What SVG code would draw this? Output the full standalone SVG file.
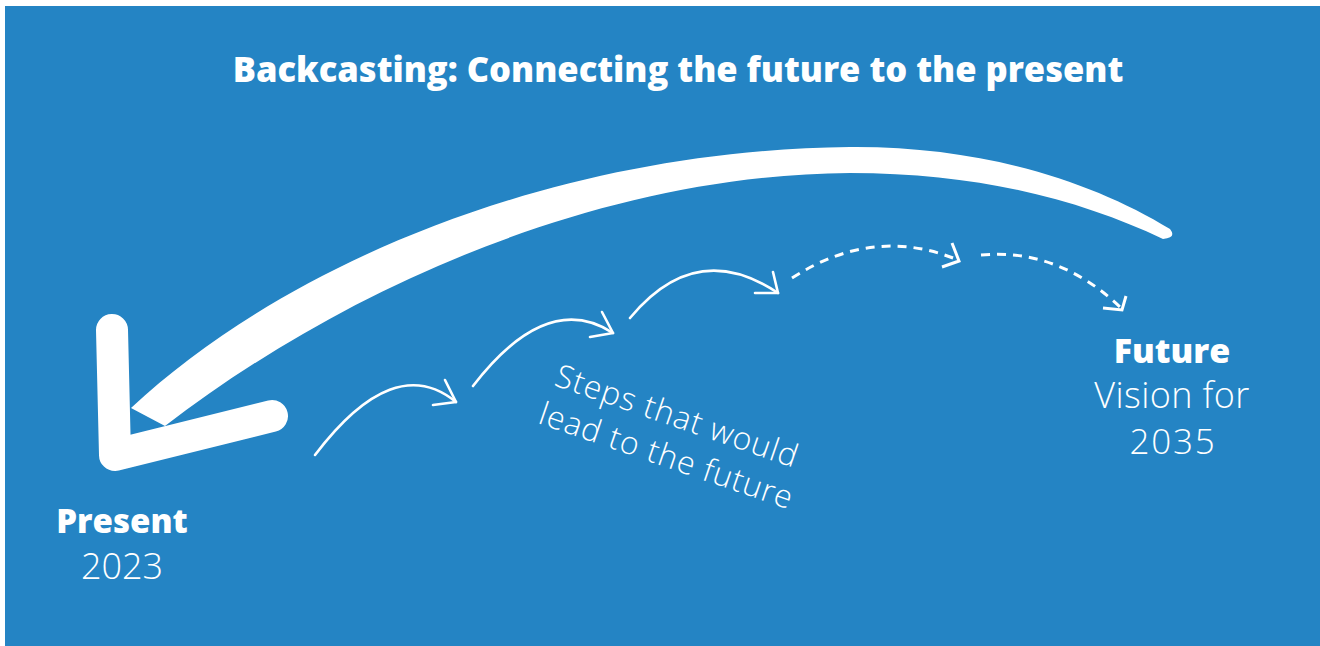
<svg xmlns="http://www.w3.org/2000/svg" width="1320" height="646" viewBox="0 0 1320 646">
<style>
.bold{font-family:"Open Sans",Lato,sans-serif;font-weight:800;fill:#fff}
.light{font-family:"Open Sans",Lato,sans-serif;font-weight:300;fill:#fff}
.thin{fill:none;stroke:#fff;stroke-width:2.6;stroke-linecap:round;stroke-linejoin:round}
.dash{fill:none;stroke:#fff;stroke-width:3;stroke-dasharray:9 7}
.head{fill:none;stroke:#fff;stroke-width:3;stroke-linecap:butt;stroke-linejoin:miter}
</style>
<rect width="1320" height="646" fill="#fff"/>
<rect x="5" y="6" width="1315" height="640" fill="#2484C4"/>
<text class="bold" x="678" y="82" font-size="34.5" text-anchor="middle">Backcasting: Connecting the future to the present</text>
<g id="connectors">
  <g id="backcast-arrow" fill="#fff">
    <path d="M131,408 C290,260 560,150 850,147 C980,146 1090,180 1170,229 Q1177,238 1163,239 C1080,200 980,173 850,173 C590,175 335,295 165,426 Z"/>
    <polyline points="112,330 115,455 272,416" fill="none" stroke="#fff" stroke-width="32" stroke-linecap="round" stroke-linejoin="round"/>
  </g>
  <g id="step1">
    <path class="thin" d="M315,455 Q394,351 456,402"/>
    <polyline class="thin" points="445,380 456,402 433,405"/>
  </g>
  <g id="step2">
    <path class="thin" d="M473,386 Q547,290 613,333"/>
    <polyline class="thin" points="602,312 613,333 590,337"/>
  </g>
  <g id="step3">
    <path class="thin" d="M630,318 Q696,238 778,293"/>
    <polyline class="thin" points="773,272 778,293 755,293"/>
  </g>
  <g id="step4">
    <path class="dash" d="M792,278 Q874,225 958,260"/>
    <polyline class="head" points="952,243 959,261 942,267"/>
  </g>
  <g id="step5">
    <path class="dash" d="M981,255 Q1058,248 1120,307"/>
    <polyline class="head" points="1126,296 1122,310 1103,308"/>
  </g>
</g>
<g id="present">
  <text class="bold" x="122" y="533" font-size="33" text-anchor="middle">Present</text>
  <text class="light" x="122" y="579" font-size="36" text-anchor="middle">2023</text>
</g>
<g id="steps-label">
  <text class="light" font-size="32" letter-spacing="0.9" transform="translate(553,385) rotate(19)"><tspan x="0" y="0">Steps that would</tspan><tspan x="-3" y="41">lead to the future</tspan></text>
</g>
<g id="future">
  <text class="bold" x="1172" y="363" font-size="34" text-anchor="middle">Future</text>
  <text class="light" x="1172" y="408" font-size="36" letter-spacing="0.4" text-anchor="middle">Vision for</text>
  <text class="light" x="1173" y="454" font-size="35" letter-spacing="1.8" text-anchor="middle">2035</text>
</g>
</svg>
